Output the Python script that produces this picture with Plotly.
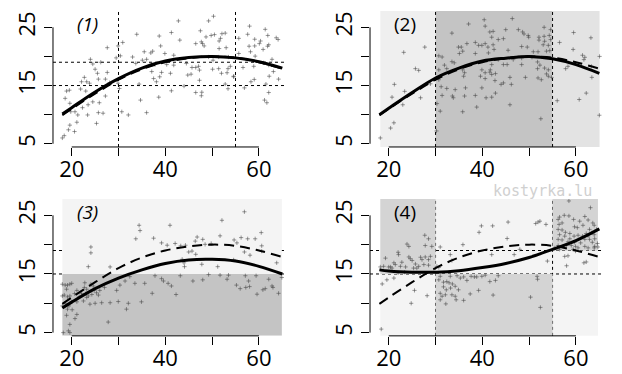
import plotly.graph_objects as go

# ---------------- data ----------------
p1_points = [
    (33.9,23.8),(38.7,23.5),(41.3,24.1),(30.9,22.4),(29.9,21.8),(27.6,21.5),(39.0,21.8),(37.3,20.9),
    (35.5,20.8),(36.9,20.6),(39.9,20.5),(33.0,19.9),(29.5,19.75),(30.4,20.1),(24.0,19.5),(35.1,19.35),
    (36.0,19.5),(26.2,19.0),(33.7,18.8),(24.5,18.7),(25.0,17.8),(25.5,17.1),(27.6,17.25),(37.8,18.6),
    (37.1,17.4),(40.3,18.6),(39.2,17.25),(41.1,17.1),(22.7,16.4),(22.1,15.65),(23.8,15.4),(23.2,15.65),
    (21.9,14.4),(19.5,14.2),(18.9,14.05),(23.0,14.05),(27.2,16.1),(28.1,15.5),(25.7,16.1),(29.9,15.4),
    (30.2,14.5),(34.4,15.25),(37.5,16.2),(38.8,16.5),(38.1,15.65),(41.3,14.1),(34.7,12.5),(38.6,13.0),
    (27.2,13.2),(24.5,12.2),(25.9,12.05),(23.5,11.7),(22.3,11.2),(20.7,10.5),(19.8,10.5),(21.3,9.95),
    (23.4,9.95),(25.7,10.35),(26.7,10.25),(30.7,10.5),(32.1,9.95),(36.0,10.35),(19.6,11.95),(18.6,12.8),
    (25.3,8.5),(21.1,8.7),(19.6,8.2),(19.3,7.4),(20.6,7.1),(18.4,6.4),(18.0,6.0),
    (50.3,26.9),(49.25,26.1),(42.8,26.1),(58.0,25.2),(61.35,24.65),(47.5,24.4),(61.9,23.6),(63.7,23.2),
    (64.1,22.9),(50.5,23.75),(49.8,23.6),(52.1,23.9),(52.8,24.0),(48.7,23.35),(51.8,23.1),(51.5,22.65),
    (57.6,23.8),(59.1,22.95),(60.35,22.65),(55.7,23.1),(46.5,22.2),(47.7,22.5),(47.95,22.2),(48.3,21.8),
    (59.1,21.8),(60.1,22.2),(62.1,22.0),(61.85,21.75),(60.9,21.2),(57.9,21.75),(51.5,21.35),(53.0,21.5),
    (58.2,20.8),(59.2,20.05),(55.7,20.5),(43.1,22.8),(41.8,20.2),(50.2,19.35),(49.25,19.9),(51.4,19.9),
    (53.5,19.9),(44.5,18.8),(45.7,18.1),(46.5,18.1),(47.1,18.3),(47.3,17.65),(44.8,16.8),(45.5,16.95),
    (50.1,17.8),(51.4,17.9),(52.0,17.1),(53.4,17.9),(53.9,18.3),(53.2,17.2),(54.6,16.6),(56.6,18.1),
    (58.9,18.3),(61.0,18.9),(62.8,19.5),(62.1,18.5),(63.1,17.4),(64.2,16.1),(62.2,16.6),(59.0,16.05),
    (58.3,15.65),(61.5,15.25),(62.1,13.8),(61.2,12.5),(61.7,12.05),(52.8,15.25),(53.4,14.45),(47.3,15.9),
    (44.0,14.9),(46.5,13.8),(47.8,13.85),(47.7,13.25),(56.9,14.6),(54.6,16.5),(41.8,18.5),
]

p2_points = [
    (27.7,21.6),(23.2,20.7),(25.7,17.9),(26.4,17.6),(21.2,15.2),(20.7,13.0),(23.4,14.0),(26.8,12.9),
    (23.0,11.7),(21.1,8.6),(20.4,7.7),(18.2,6.0),(28.9,15.3),
    (37.06,25.57),(40.4,26.3),(40.6,25.2),(33.5,24.0),(36.7,22.2),(38.5,22.4),(39.2,21.9),(39.9,21.9),
    (40.6,22.2),(41.2,21.6),(34.9,21.6),(35.5,21.6),(35.8,20.9),(35.1,20.5),(30.7,20.1),(31.4,19.9),
    (38.5,20.5),(41.3,20.6),(33.5,19.1),(34.0,18.9),(31.9,18.5),(30.7,17.7),(32.4,17.9),(35.8,17.7),
    (36.2,17.2),(36.0,16.6),(39.9,17.7),(40.6,17.2),(39.6,16.6),(41.7,17.7),(30.7,16.0),(31.2,14.8),
    (32.4,14.5),(34.2,14.3),(36.4,14.6),(39.9,14.6),(31.4,13.3),(33.6,13.2),(33.8,12.9),(36.2,13.2),
    (38.5,13.3),(40.8,12.9),(30.3,11.9),(31.0,10.6),(35.8,10.5),(38.8,11.3),(40.6,16.2),(30.2,7.2),
    (46.4,26.5),(53.2,25.0),(54.6,24.6),(45.0,24.6),(47.7,24.6),(48.6,24.2),(48.9,23.85),(42.3,24.3),
    (41.6,24.2),(49.8,23.6),(49.9,23.3),(42.0,23.3),(44.5,23.05),(43.4,22.9),(52.1,23.3),(53.2,23.45),
    (54.3,23.6),(52.1,22.8),(53.3,22.6),(54.6,22.9),(42.3,22.0),(48.4,21.7),(49.6,21.6),(53.0,22.0),
    (54.1,21.9),(42.5,21.2),(45.5,21.05),(50.9,20.8),(51.9,20.8),(53.7,20.9),(54.4,21.0),(50.6,19.85),
    (48.4,19.7),(46.6,19.45),(43.4,19.45),(44.5,18.6),(45.3,18.6),(48.4,18.6),(42.0,18.6),(51.8,19.05),
    (52.3,18.5),(53.3,18.0),(54.1,17.7),(53.7,17.0),(54.1,16.6),(54.8,16.4),(41.6,17.3),(42.8,17.05),
    (42.0,16.9),(51.8,17.9),(51.9,16.3),(52.6,16.0),(49.2,16.4),(45.9,16.4),(44.5,15.45),(44.0,15.2),
    (46.2,15.2),(42.7,15.85),(42.8,13.7),(42.0,13.0),(45.9,11.7),(52.5,9.3),
    (59.5,24.1),(63.2,23.2),(56.5,22.4),(59.4,21.2),(61.4,20.2),(61.9,19.85),(65.05,20.0),(61.7,19.45),
    (58.3,18.3),(57.8,17.9),(63.3,18.3),(63.4,16.4),(62.2,13.7),(60.7,12.6),(56.0,12.4),(65.0,9.9),
]

p3_points = [
    (34.4,23.3),(34.6,22.4),(33.7,21.0),(37.5,21.1),(39.2,20.3),(41.0,23.3),(40.4,19.9),(24.1,19.6),
    (24.1,18.6),(23.55,16.25),(28.2,16.2),
    (18.0,13.25),(18.6,13.1),(19.1,13.1),(19.6,13.25),(20.0,13.4),(18.9,12.4),(18.4,11.4),(18.0,11.25),
    (19.1,11.1),(19.6,11.25),(20.6,11.65),(21.1,12.2),(22.8,13.5),(22.7,12.7),(23.2,12.4),(24.1,13.25),
    (24.6,12.95),(24.8,12.2),(25.3,11.8),(25.7,11.4),(26.0,12.2),(27.0,12.7),(24.3,11.5),(23.55,11.25),
    (23.0,11.65),(22.1,11.65),(21.6,11.1),(21.1,10.25),(20.0,10.25),(19.4,9.55),(19.1,9.0),(20.1,8.9),
    (18.9,7.95),(21.1,8.1),(20.7,7.4),(19.6,6.4),(19.3,5.3),(18.2,5.0),(19.6,5.0),(27.8,6.8),
    (31.7,9.0),(26.4,10.1),(28.2,10.1),(29.95,10.3),(32.1,10.0),(34.9,10.25),(25.0,10.0),(23.9,9.85),
    (29.6,12.2),(30.3,13.1),(33.5,13.4),(35.6,13.4),(37.2,11.7),(32.4,14.55),(37.8,14.7),(39.6,13.8),
    (40.6,13.4),(41.3,12.95),(39.2,14.2),(31.4,13.8),(18.0,9.55),(18.6,10.0),(22.5,10.4),(23.2,11.0),
    (56.9,25.6),(52.1,24.15),(60.5,22.05),(51.7,21.5),(56.2,21.2),(57.6,21.0),(59.2,21.0),(54.7,20.8),
    (55.3,20.3),(46.8,21.3),(48.0,20.9),(46.4,20.6),(49.8,20.2),(48.5,20.05),(44.3,19.9),(43.3,19.8),
    (42.1,20.2),(60.6,19.8),(56.9,18.75),(58.1,18.2),(60.6,18.9),(45.7,18.9),(45.0,18.75),(46.5,18.35),
    (43.6,17.5),(44.0,16.9),(44.1,16.25),(47.8,16.65),(51.2,16.25),(54.6,17.4),(63.8,16.9),
    (43.2,14.7),(42.3,11.5),(45.9,13.8),(48.0,14.0),(51.7,14.8),(53.5,14.8),(53.2,14.1),(57.1,14.7),
    (57.8,13.8),(55.2,13.1),(56.0,12.5),(57.2,12.7),(58.0,12.85),(59.6,11.55),(59.4,14.7),(60.85,12.3),
    (61.35,12.5),(62.8,12.95),(63.0,12.7),(64.2,11.7),(64.9,14.4),(62.1,14.1),(49.25,14.9),
]

p4_points = [
    (27.7,21.6),(28.5,21.0),(27.8,19.85),(23.9,20.1),(24.3,19.7),(29.2,19.7),(19.3,17.7),(22.0,18.7),
    (22.1,18.3),(21.1,16.9),(21.4,16.6),(22.5,16.3),(22.8,17.0),(24.3,17.9),(24.6,17.6),(25.0,17.3),
    (26.8,17.85),(27.1,17.45),(27.8,17.9),(28.5,17.45),(28.9,18.0),(27.5,16.6),(28.5,16.5),(26.4,16.3),
    (25.7,16.7),(25.3,16.0),(18.9,16.3),(20.0,16.2),(20.4,16.2),(20.7,16.0),(18.2,16.2),(23.4,15.3),
    (26.0,16.0),(23.6,16.2),(18.6,13.3),(19.6,14.0),(21.1,14.3),(22.0,15.2),(25.5,12.2),(28.2,11.3),
    (24.8,10.0),(18.4,5.6),
    (39.8,23.2),(39.3,22.1),(35.85,20.0),(31.0,19.6),(33.15,18.3),(33.5,17.3),(30.7,16.1),(30.3,16.3),
    (31.0,14.6),(30.7,14.0),(31.7,13.6),(32.4,13.7),(32.9,13.5),(33.6,13.3),(31.7,12.8),(32.3,12.3),
    (33.2,12.6),(34.2,12.9),(34.9,12.3),(31.0,11.7),(32.1,11.45),(33.5,11.45),(34.2,11.2),(36.0,10.5),
    (34.4,10.6),(32.2,9.9),(31.0,10.6),(31.4,11.2),(37.4,11.6),(39.2,12.2),(37.6,14.6),(38.3,14.5),
    (38.8,14.5),(39.9,14.6),(40.6,14.8),(35.3,14.3),(36.0,14.5),(36.7,13.9),(33.15,14.6),(34.6,14.7),
    (45.5,23.85),(51.4,23.6),(51.9,23.85),(52.3,24.0),(53.6,23.45),(42.2,23.2),(45.3,21.05),(48.0,19.2),
    (46.8,18.3),(42.0,18.3),(53.9,17.2),(43.4,14.7),(42.8,13.9),(41.6,13.7),(51.7,14.6),(51.8,14.1),
    (42.3,11.4),(50.3,11.05),(52.4,9.3),
    (58.5,27.45),(63.1,26.3),(56.5,24.7),(57.5,25.0),(58.5,24.9),(56.2,24.3),(59.5,24.3),(61.9,24.8),
    (60.8,24.0),(62.6,24.2),(57.04,23.7),(56.4,23.45),(59.7,23.05),(60.3,22.9),(61.5,23.3),(63.6,23.7),
    (63.9,23.3),(62.9,22.6),(63.4,22.0),(62.2,21.9),(64.4,22.6),(56.2,22.6),(57.04,22.5),(57.75,22.1),
    (58.7,21.9),(56.5,21.7),(57.6,21.45),(58.7,21.0),(59.6,21.45),(60.45,21.6),(61.4,21.45),(62.6,21.45),
    (63.9,21.7),(64.0,21.0),(56.2,20.9),(57.04,20.8),(58.3,20.5),(59.7,20.4),(61.0,20.3),(61.9,20.9),
    (62.9,20.9),(63.5,20.4),(64.6,20.2),(64.7,19.6),(63.9,19.45),(62.6,19.45),(61.9,19.7),(60.45,19.45),
    (59.9,19.7),(59.0,19.85),(58.0,19.85),(57.25,19.7),(56.2,19.85),(56.5,19.2),(57.6,18.0),(58.3,18.1),
    (59.4,19.2),(59.9,18.9),(61.7,16.9),(62.2,17.05),(58.0,16.4),(55.5,19.45),(64.0,19.7),
]

# curves, read at these ages
curve_x = [18, 20, 25, 30, 35, 40, 45, 50, 55, 60, 65]
true_y  = [9.9, 11.0, 13.6, 16.0, 17.8, 19.0, 19.7, 20.0, 19.8, 19.0, 17.9]
fit1_y  = [10.1, 11.2, 13.9, 16.2, 18.0, 19.2, 19.8, 20.0, 19.75, 19.1, 18.0]
fit2_y  = [10.0, 11.1, 13.8, 16.3, 18.0, 19.2, 19.7, 20.0, 19.6, 18.6, 17.1]
fit3_y  = [9.2, 10.2, 12.5, 14.3, 15.7, 16.8, 17.4, 17.5, 17.2, 16.3, 15.0]
fit4_y  = [15.7, 15.5, 15.3, 15.3, 15.55, 16.1, 16.8, 17.8, 19.2, 20.7, 22.7]

cut_x = [30, 55]
cut_y = [15, 19]
x_tickvals = [20, 30, 40, 50, 60]
x_ticktext = ["20", "", "40", "", "60"]
y_tickvals = [5, 10, 15, 20, 25]
y_ticktext = ["5", "", "15", "", "25"]
panel_labels = ["(1)", "(2)", "(3)", "(4)"]
watermark = "kostyrka.lu"

# ---------------- layout constants ----------------
X_RANGE = [16.0, 66.0]
Y_RANGE = [4.45, 27.8]
FONT = "Open Sans"
doms = {
    1: ([0.0852, 0.4614], [0.607, 0.9706]),
    2: ([0.5949, 0.9711], [0.607, 0.9706]),
    3: ([0.0852, 0.4614], [0.102, 0.4682]),
    4: ([0.5949, 0.9711], [0.102, 0.4682]),
}
fits = {1: fit1_y, 2: fit2_y, 3: fit3_y, 4: fit4_y}
pts = {1: p1_points, 2: p2_points, 3: p3_points, 4: p4_points}

fig = go.Figure()
shapes = []
annotations = []
layout = {}

DARK = "#c4c4c4"
MID = "#d4d4d4"
LIGHT = "#f4f4f4"
PT_COLOR = "rgba(70,70,70,0.55)"

for i in range(1, 5):
    xa = "x" if i == 1 else f"x{i}"
    ya = "y" if i == 1 else f"y{i}"
    xs = [p[0] for p in pts[i]]
    ys = [p[1] for p in pts[i]]
    xmin, xmax = min(xs), max(xs)

    def rect(x0, x1, y0, y1, color, yref=ya):
        shapes.append(dict(type="rect", xref=xa, yref=yref, x0=x0, x1=x1, y0=y0, y1=y1,
                           fillcolor=color, line=dict(width=0), layer="below"))
    if i == 2:
        rect(xmin, cut_x[0], 0, 1, "#efefef", ya + " domain")
        rect(cut_x[0], cut_x[1], 0, 1, DARK, ya + " domain")
        rect(cut_x[1], xmax, 0, 1, "#e3e3e3", ya + " domain")
    elif i == 3:
        rect(xmin, xmax, cut_y[0], Y_RANGE[1], LIGHT)
        rect(xmin, xmax, Y_RANGE[0], cut_y[0], DARK)
    elif i == 4:
        rect(xmin, xmax, 0, 1, LIGHT, ya + " domain")
        rect(xmin, cut_x[0], cut_y[0], Y_RANGE[1], MID)
        rect(cut_x[0], cut_x[1], Y_RANGE[0], cut_y[0], MID)
        rect(cut_x[1], xmax, cut_y[1], Y_RANGE[1], MID)

    if i in (1, 2, 4):
        for cx in cut_x:
            shapes.append(dict(type="line", xref=xa, yref=ya + " domain", x0=cx, x1=cx, y0=0, y1=1,
                               line=dict(color="black", width=1, dash="3px,3px"), layer="below"))
    if i in (1, 3, 4):
        for cy in cut_y:
            shapes.append(dict(type="line", xref=xa + " domain", yref=ya, x0=0, x1=1, y0=cy, y1=cy,
                               line=dict(color="black", width=1, dash="3px,3px"), layer="below"))

    shapes.append(dict(type="line", xref=xa, yref=ya + " domain", x0=x_tickvals[0], x1=x_tickvals[-1],
                       y0=0, y1=0, line=dict(color="black", width=1)))
    shapes.append(dict(type="line", xref=xa + " domain", yref=ya, x0=0, x1=0, y0=y_tickvals[0],
                       y1=y_tickvals[-1], line=dict(color="black", width=1)))

    fig.add_trace(go.Scatter(
        x=xs, y=ys, mode="markers", xaxis=xa, yaxis=ya, hoverinfo="skip",
        marker=dict(symbol="cross-thin-open", size=3, color=PT_COLOR,
                    line=dict(width=1, color=PT_COLOR)),
    ))
    fig.add_trace(go.Scatter(
        x=curve_x, y=true_y, mode="lines", xaxis=xa, yaxis=ya, line_shape="spline",
        line=dict(color="black", width=2, dash="10px,6px"), hoverinfo="skip",
    ))
    fig.add_trace(go.Scatter(
        x=curve_x, y=fits[i], mode="lines", xaxis=xa, yaxis=ya, line_shape="spline",
        line=dict(color="black", width=3), hoverinfo="skip",
    ))

    annotations.append(dict(
        x=23.4, y=25.6, xref=xa, yref=ya, xanchor="center", yanchor="middle",
        text=(f"<i>{panel_labels[i-1]}</i>" if i in (1, 3) else panel_labels[i-1]),
        showarrow=False, font=dict(family=FONT, size=19, color="black"),
    ))

    xk = "xaxis" if i == 1 else f"xaxis{i}"
    yk = "yaxis" if i == 1 else f"yaxis{i}"
    layout[xk] = dict(domain=doms[i][0], range=X_RANGE, anchor=ya, showgrid=False, zeroline=False,
                      showline=False, ticks="outside", ticklen=8, tickwidth=1, tickcolor="black",
                      tickvals=x_tickvals, ticktext=x_ticktext, ticklabelstandoff=-5,
                      tickfont=dict(family=FONT, size=22, color="black"))
    layout[yk] = dict(domain=doms[i][1], range=Y_RANGE, anchor=xa, showgrid=False, zeroline=False,
                      showline=False, ticks="outside", ticklen=8, tickwidth=1, tickcolor="black",
                      tickvals=y_tickvals, ticktext=y_ticktext, tickangle=-90,
                      tickfont=dict(family=FONT, size=22, color="black"))

annotations.append(dict(
    x=542 / 622, y=1 - 191 / 374, xref="paper", yref="paper", xanchor="center", yanchor="middle",
    text=watermark, showarrow=False, borderpad=0,
    font=dict(family="DejaVu Sans Mono", size=15, color="#d0d0d0"),
))

fig.update_layout(
    width=622, height=374, margin=dict(l=0, r=0, t=0, b=0),
    paper_bgcolor="white", plot_bgcolor="white", showlegend=False,
    shapes=shapes, annotations=annotations, **layout,
)

fig.write_html("out.html", config={"displayModeBar": False},
               post_script="document.body.style.margin='0';")
